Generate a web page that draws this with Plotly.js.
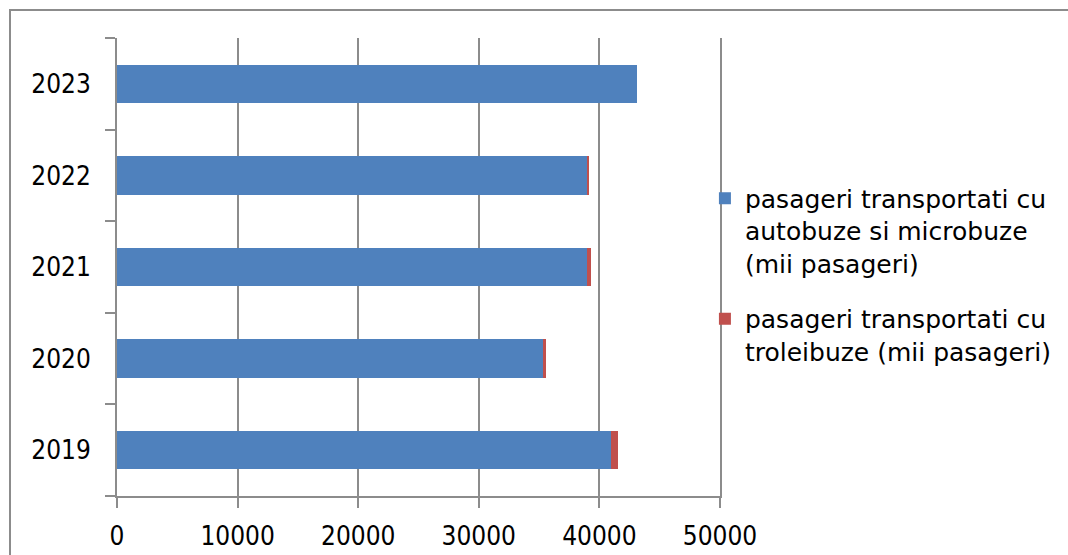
<!DOCTYPE html>
<html>
<head>
<meta charset="utf-8">
<script src="https://cdn.plot.ly/plotly-3.0.1.min.js"></script>
<style>
html,body{margin:0;padding:0;background:#fff;}
#wrap{position:relative;width:1068px;height:555px;overflow:hidden;}
#chart{width:1068px;height:555px;}
#frame{position:absolute;left:9px;top:9px;width:1200px;height:700px;border:2px solid #8c8c8c;pointer-events:none;}
</style>
</head>
<body>
<div id="wrap"><div id="chart"></div><div id="frame"></div></div>
<script>
const years = ['2019', '2020', '2021', '2022', '2023'];
const autobuze = [41000, 35300, 38950, 38950, 43150];
const troleibuze = [550, 300, 330, 180, 0];
const seriesNames = [
  'pasageri transportati cu<br>autobuze si microbuze<br>(mii pasageri)',
  'pasageri transportati cu<br>troleibuze (mii pasageri)'
];
const xTicks = [0, 10000, 20000, 30000, 40000, 50000];

const tickFont = {family: '"DejaVu Sans Condensed", "DejaVu Sans", sans-serif', size: 26, color: '#000'};
const legendFont = {family: '"DejaVu Sans", sans-serif', size: 25, color: '#000'};

const traces = [
  {type: 'bar', orientation: 'h', y: years, x: autobuze, name: seriesNames[0],
   marker: {color: '#4f81bd'}, legendgroup: 'a'},
  {type: 'bar', orientation: 'h', y: years, x: troleibuze, name: seriesNames[1],
   marker: {color: '#c0504d'}, legendgroup: 'b'}
];

const layout = {
  width: 1068, height: 555,
  margin: {l: 117, r: 348, t: 38, b: 59},
  barmode: 'stack',
  bargap: 0.58,
  font: tickFont,
  paper_bgcolor: '#fff', plot_bgcolor: '#fff',
  showlegend: true,
  legend: {x: 0.975, xanchor: 'left', y: 0.70, yanchor: 'top',
           traceorder: 'grouped', tracegroupgap: 20, valign: 'top',
           font: legendFont, bgcolor: 'rgba(0,0,0,0)'},
  xaxis: {range: [0, 50000], tickvals: xTicks, ticktext: xTicks.map(String),
          showgrid: true, gridcolor: '#8c8c8c', gridwidth: 2,
          zeroline: false, showline: true, linecolor: '#8c8c8c', linewidth: 2,
          ticks: 'outside', ticklen: 10, tickcolor: '#8c8c8c', tickwidth: 2,
          ticklabelstandoff: 6, tickfont: tickFont, fixedrange: true},
  yaxis: {type: 'category', categoryorder: 'array', categoryarray: years,
          range: [-0.5, 4.5], showgrid: false, zeroline: false,
          showline: true, mirror: true, linecolor: '#8c8c8c', linewidth: 2,
          ticks: 'outside', ticklen: 10, tickcolor: '#8c8c8c', tickwidth: 2,
          tickson: 'boundaries', ticklabelstandoff: 19, tickfont: tickFont, fixedrange: true}
};

Plotly.newPlot('chart', traces, layout, {displayModeBar: false, staticPlot: true});
</script>
</body>
</html>
